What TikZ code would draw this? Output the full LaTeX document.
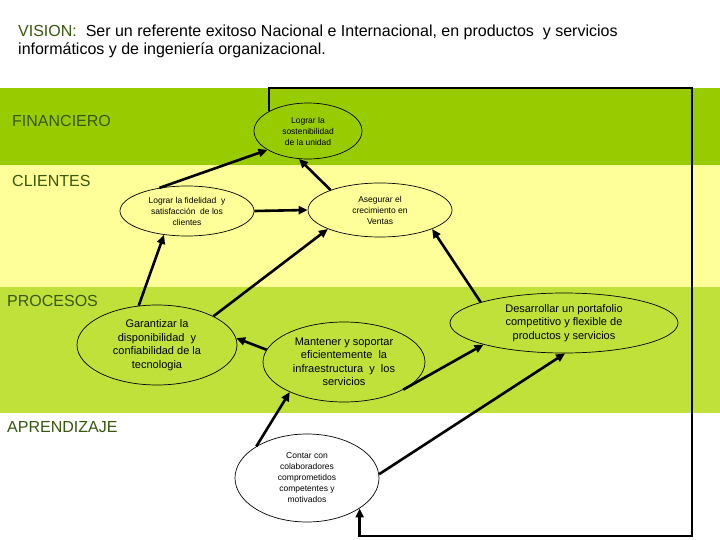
\documentclass[tikz,border=0pt]{standalone}
\usepackage{fontspec}
\setmainfont{Liberation Sans}
\usetikzlibrary{shapes.geometric,arrows.meta}
\definecolor{fin}{RGB}{153,204,0}
\definecolor{cli}{RGB}{255,255,153}
\definecolor{pro}{RGB}{191,225,58}
\definecolor{lab}{RGB}{56,87,13}
\begin{document}
\begin{tikzpicture}[x=1pt,y=-1pt,
  goalshape/.style={shape=ellipse,draw=black,line width=0.7pt,inner sep=0pt,align=center},
  bigtxt/.style={font=\fontsize{11}{13.5}\selectfont},
  smalltxt/.style={font=\fontsize{8.5}{11}\selectfont},
  bandlabel/.style={anchor=base west,inner sep=0pt,text=lab,font=\fontsize{16}{18}\selectfont},
  conn/.style={line width=2.6pt,line join=miter,-{Triangle[length=9pt,width=8pt]}}]
\useasboundingbox (0,0) rectangle (720,540);
\fill[white] (0,0) rectangle (720,540);
\fill[fin] (0,88) rectangle (720,165);
\fill[cli] (0,165) rectangle (720,287);
\fill[pro] (0,287) rectangle (720,413);

\node[anchor=base west,inner sep=0pt,font=\fontsize{16}{18}\selectfont] (v1) at (18,36.5)
  {\textcolor{lab}{VISION:}\ \ Ser un referente exitoso Nacional e Internacional, en productos\ \ y servicios};
\node[anchor=base west,inner sep=0pt,font=\fontsize{16}{18}\selectfont] (v2) at (18,54.5)
  {informáticos y de ingeniería organizacional.};

\node[bandlabel] (lf) at (12,126.5) {FINANCIERO};
\node[bandlabel] (lc) at (12,186.5) {CLIENTES};
\node[bandlabel] (lp) at (7,306.5) {PROCESOS};
\node[bandlabel] (la) at (7,432.5) {APRENDIZAJE};

\node[goalshape,fill=fin,smalltxt,minimum width=108pt,minimum height=56pt] (e1) at (308,131) {Lograr la\\sostenibilidad\\de la unidad};
\node[goalshape,fill=cli,smalltxt,minimum width=134pt,minimum height=50pt] (e2) at (187,211) {Lograr la fidelidad\ \ y\\satisfacción\ \ de los\\clientes};
\node[goalshape,fill=cli,smalltxt,minimum width=144pt,minimum height=54pt] (e3) at (380,210) {Asegurar el\\crecimiento en\\Ventas};
\node[goalshape,fill=pro,bigtxt,minimum width=160pt,minimum height=80pt] (e4) at (157,345) {Garantizar la\\disponibilidad\ \ y\\confiabilidad de la\\tecnologia};
\node[goalshape,fill=pro,bigtxt,minimum width=162pt,minimum height=80pt] (e5) at (344,362) {Mantener y soportar\\eficientemente\ \ la\\infraestructura\ \ y\ \ los\\servicios};
\node[goalshape,fill=pro,bigtxt,minimum width=228pt,minimum height=60pt] (e6) at (564,323) {Desarrollar un portafolio\\competitivo y flexible de\\productos y servicios};
\node[goalshape,fill=white,smalltxt,minimum width=144pt,minimum height=88pt] (e7) at (307,478) {Contar con\\colaboradores\\comprometidos\\competentes y\\motivados};

\coordinate (tr) at (692,88);
\coordinate (br) at (692,536);

\draw[conn] (e2.east) -- (e3.west);
\draw[conn] (e3.158) -- (e1.252);
\draw[conn] (e2.140) -- (e1.205);
\draw[conn] (e4.115) -- (e2.226);
\draw[conn] (e4.27) -- (e3.200);
\draw[conn] (e6.166) -- (e3.340);
\draw[conn] (e5.171) -- (e4.5);
\draw[conn] (e7.148) -- (e5.209);
\draw[conn] (e5.335) -- (e6.195);
\draw[conn] (e7.3) -- (e6.272);
\draw[conn] (e1.153) |- (tr) -- (br) -| (e7.330);
\end{tikzpicture}
\end{document}
